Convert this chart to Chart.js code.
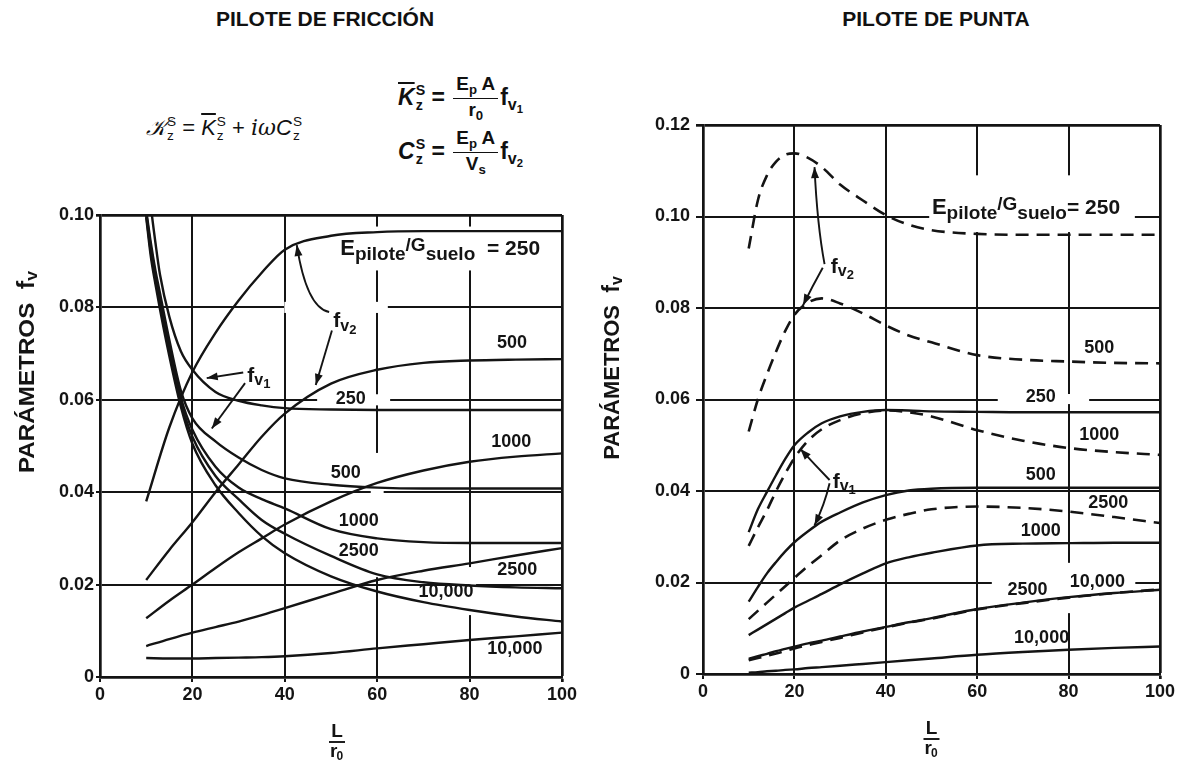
<!DOCTYPE html>
<html><head><meta charset="utf-8">
<script src="https://cdn.jsdelivr.net/npm/chart.js@4.4.1/dist/chart.umd.min.js"></script>
<style>
html,body{margin:0;padding:0;background:#fff;}
body{width:1177px;height:761px;position:relative;overflow:hidden;font-family:"Liberation Sans",Arial,sans-serif;color:#111;}
canvas{position:absolute;top:0;}
.ttl{position:absolute;font-weight:bold;font-size:21px;line-height:21px;white-space:nowrap;transform:translateX(-50%);}
.fm{position:absolute;white-space:nowrap;line-height:1;}
.ss{display:inline-block;font-size:0.62em;line-height:1.0;vertical-align:-0.35em;margin-left:1px;text-align:left;}
.frac{display:inline-block;vertical-align:middle;text-align:center;margin:0 2px;font-size:0.82em;}
.frac .num{display:block;border-bottom:1.8px solid #111;padding:0 3px 2px;}
.frac .den{display:block;padding-top:2px;}
.lo{font-size:0.7em;vertical-align:-0.3em;}
.ov{text-decoration:overline;text-decoration-thickness:1.6px;}
.it{font-style:italic;}
.sr{font-family:"DejaVu Serif",serif;font-style:italic;}
</style></head><body>
<div class="ttl" style="left:325px;top:8px">PILOTE DE FRICCIÓN</div>
<div class="ttl" style="left:936px;top:8px">PILOTE DE PUNTA</div>

<div class="fm" style="left:146px;top:115px;font-size:22px;">
<span class="sr">𝒦</span><span class="ss">S<br>z</span> = <span class="ov it">K</span><span class="ss">S<br>z</span> + <span class="sr">iω</span><span class="it">C</span><span class="ss">S<br>z</span>
</div>
<div class="fm" style="left:398px;top:75px;font-size:23px;font-weight:bold;">
<span class="ov it">K</span><span class="ss">S<br>z</span> = <span class="frac"><span class="num">E<span class="lo">p</span> A</span><span class="den">r<span class="lo">0</span></span></span>f<span class="lo">v<span class="lo">1</span></span>
</div>
<div class="fm" style="left:398px;top:129px;font-size:23px;font-weight:bold;">
<span class="it">C</span><span class="ss">S<br>z</span> = <span class="frac"><span class="num">E<span class="lo">p</span> A</span><span class="den">V<span class="lo">s</span></span></span>f<span class="lo">v<span class="lo">2</span></span>
</div>

<canvas id="c1" width="588" height="761" style="left:0"></canvas>
<canvas id="c2" width="589" height="761" style="left:588px"></canvas>

<script>
// ===================== DATA =====================
const xTicks = [0, 20, 40, 60, 80, 100];
const xTickLabels = ['0', '20', '40', '60', '80', '100'];
const yTicksFric = [0, 0.02, 0.04, 0.06, 0.08, 0.10];
const yTickLabelsFric = ['0', '0.02', '0.04', '0.06', '0.08', '0.10'];
const yTicksPunta = [0, 0.02, 0.04, 0.06, 0.08, 0.10, 0.12];
const yTickLabelsPunta = ['0', '0.02', '0.04', '0.06', '0.08', '0.10', '0.12'];

// ---- Pilote de fricción: f_v1 (decreasing curves) ----
const xFricFv1 = [10, 11, 12, 13, 15, 17.5, 20, 25, 30, 35, 40, 50, 60, 70, 80, 90, 100];
const fricFv1_250   = [0.112, 0.102, 0.094, 0.087, 0.078, 0.0705, 0.0665, 0.0617, 0.0598, 0.0588, 0.0582, 0.0579, 0.0578, 0.0578, 0.0578, 0.0578, 0.0578];
const fricFv1_500   = [0.101, 0.094, 0.088, 0.083, 0.073, 0.062, 0.0560, 0.0510, 0.0475, 0.0448, 0.0430, 0.0416, 0.0410, 0.0408, 0.0408, 0.0408, 0.0408];
const fricFv1_1000  = [0.1005, 0.093, 0.087, 0.0815, 0.0715, 0.0605, 0.0535, 0.0455, 0.0410, 0.0385, 0.0365, 0.0320, 0.0300, 0.0292, 0.0290, 0.0290, 0.0290];
const fricFv1_2500  = [0.100, 0.092, 0.086, 0.0805, 0.0705, 0.0595, 0.0520, 0.0435, 0.0385, 0.0340, 0.0310, 0.0262, 0.0222, 0.0205, 0.0198, 0.0194, 0.0192];
const fricFv1_10000 = [0.0995, 0.091, 0.085, 0.0795, 0.0695, 0.0585, 0.0505, 0.0415, 0.0355, 0.0305, 0.0268, 0.0218, 0.0185, 0.0162, 0.0145, 0.0131, 0.0120];

// ---- Pilote de fricción: f_v2 (increasing curves) ----
const xFricFv2 = [10, 15, 20, 25, 30, 35, 40, 50, 60, 70, 80, 90, 100];
const fricFv2_250   = [0.038, 0.054, 0.066, 0.0745, 0.0815, 0.0875, 0.0925, 0.0955, 0.0963, 0.0965, 0.0965, 0.0965, 0.0965];
const fricFv2_500   = [0.021, 0.0275, 0.0335, 0.040, 0.046, 0.052, 0.057, 0.0635, 0.0665, 0.068, 0.0685, 0.0687, 0.0688];
const fricFv2_1000  = [0.0127, 0.0165, 0.0200, 0.0236, 0.027, 0.030, 0.033, 0.038, 0.042, 0.0447, 0.0466, 0.0477, 0.0484];
const fricFv2_2500  = [0.0067, 0.0082, 0.0096, 0.0108, 0.012, 0.0134, 0.0149, 0.018, 0.021, 0.023, 0.0246, 0.0263, 0.0279];
const fricFv2_10000 = [0.0041, 0.0040, 0.0040, 0.0041, 0.0042, 0.0043, 0.0045, 0.0052, 0.0062, 0.0071, 0.0080, 0.0088, 0.0096];

// ---- Pilote de punta ----
const xPunta = [10, 12, 14, 16, 18, 20, 23, 26, 30, 35, 40, 45, 50, 60, 70, 80, 90, 100];
const puntaFv2_250   = [0.093, 0.1035, 0.109, 0.112, 0.1135, 0.1138, 0.1128, 0.1108, 0.107, 0.1035, 0.1003, 0.0982, 0.097, 0.0962, 0.096, 0.096, 0.096, 0.096];
const puntaFv2_500   = [0.053, 0.060, 0.0655, 0.0705, 0.075, 0.0785, 0.0812, 0.0821, 0.081, 0.0788, 0.0762, 0.074, 0.0725, 0.0697, 0.0687, 0.0683, 0.068, 0.0679];
const puntaFv2_1000  = [0.028, 0.032, 0.0358, 0.040, 0.0438, 0.0472, 0.051, 0.0535, 0.0555, 0.0570, 0.0576, 0.0572, 0.0563, 0.0533, 0.051, 0.0494, 0.0485, 0.0479];
const puntaFv2_2500  = [0.012, 0.0138, 0.0156, 0.0174, 0.0192, 0.021, 0.0236, 0.026, 0.0292, 0.0318, 0.0337, 0.035, 0.036, 0.0366, 0.0363, 0.0355, 0.0343, 0.033];
const puntaFv2_10000 = [0.0030, 0.0035, 0.0040, 0.0045, 0.0050, 0.0056, 0.0063, 0.0070, 0.0079, 0.0091, 0.0102, 0.0112, 0.0121, 0.0141, 0.0155, 0.0167, 0.0177, 0.0185];
const puntaFv1_250   = [0.031, 0.036, 0.0398, 0.0435, 0.047, 0.0500, 0.0528, 0.0548, 0.0563, 0.0573, 0.0577, 0.0576, 0.0574, 0.0573, 0.0572, 0.0572, 0.0572, 0.0572];
const puntaFv1_500   = [0.0158, 0.019, 0.022, 0.0245, 0.0268, 0.0288, 0.0312, 0.0333, 0.0353, 0.0375, 0.0391, 0.0401, 0.0405, 0.0407, 0.0407, 0.0407, 0.0407, 0.0407];
const puntaFv1_1000  = [0.0085, 0.0097, 0.0109, 0.0121, 0.0133, 0.0145, 0.016, 0.0175, 0.0196, 0.022, 0.0242, 0.0255, 0.0265, 0.0281, 0.0285, 0.0286, 0.0287, 0.0287];
const puntaFv1_2500  = [0.0033, 0.0039, 0.0044, 0.0050, 0.0055, 0.0060, 0.0067, 0.0073, 0.0082, 0.0093, 0.0103, 0.0113, 0.0122, 0.0142, 0.0156, 0.0168, 0.0177, 0.0184];
const puntaFv1_10000 = [0.0003, 0.0004, 0.0006, 0.0007, 0.0009, 0.0010, 0.0013, 0.0015, 0.0018, 0.0022, 0.0026, 0.0030, 0.0034, 0.0042, 0.0048, 0.0053, 0.0057, 0.0060];

// ===================== ANNOTATIONS (data units) =====================
const labelsFric = [
  {t:'eg', sep:'  = 250', x:52, y:0.0926, align:'left'},
  {t:'500', x:89.2, y:0.0723},
  {t:'250', x:54.3, y:0.0602},
  {t:'fv', sub:'2', x:53, y:0.0770},
  {t:'fv', sub:'1', x:34.4, y:0.0652},
  {t:'1000', x:89, y:0.0509},
  {t:'500', x:53.2, y:0.0442},
  {t:'1000', x:56, y:0.0338},
  {t:'2500', x:56, y:0.0273},
  {t:'2500', x:90.3, y:0.0232},
  {t:'10,000', x:74.9, y:0.0184},
  {t:'10,000', x:89.8, y:0.0061}
];
const arrowsFric = [
  {from:[49.6,0.0790], ctrl:[44.7,0.0800], to:[42.6,0.0935]},
  {from:[50.2,0.0750], ctrl:[48.3,0.0686], to:[46.7,0.0632]},
  {from:[31.0,0.0659], ctrl:[27.0,0.0653], to:[23.1,0.0647]},
  {from:[31.4,0.0636], ctrl:[27.8,0.0587], to:[24.2,0.0538]}
];
const gapsFric = [
  [50.5, 97.5, 0.0880, 0.0975],
  [39.9, 62.3, 0.0788, 0.0812],
  [47.0, 62.8, 0.0588, 0.0612],
  [58.6, 61.4, 0.0216, 0.0485],
  [78.6, 81.4, 0.0134, 0.0238]
];
const labelsPunta = [
  {t:'eg', sep:'= 250', x:50.1, y:0.1019, align:'left'},
  {t:'500', x:86.7, y:0.0713},
  {t:'250', x:73.9, y:0.0605},
  {t:'1000', x:86.7, y:0.0522},
  {t:'500', x:73.9, y:0.0435},
  {t:'2500', x:88.7, y:0.0374},
  {t:'1000', x:73.9, y:0.0313},
  {t:'10,000', x:86.3, y:0.0201},
  {t:'2500', x:71, y:0.0184},
  {t:'10,000', x:74.1, y:0.0079},
  {t:'fv', sub:'2', x:30.5, y:0.0890},
  {t:'fv', sub:'1', x:30.9, y:0.0420}
];
const arrowsPunta = [
  {from:[26.6,0.0896], ctrl:[25.0,0.0981], to:[24.4,0.1108]},
  {from:[26.2,0.0888], ctrl:[23.8,0.0845], to:[21.9,0.0806]},
  {from:[27.7,0.0424], ctrl:[24.4,0.0458], to:[21.3,0.0492]},
  {from:[27.7,0.0417], ctrl:[26.6,0.0370], to:[24.4,0.0325]}
];
const gapsPunta = [
  [49.5, 94.5, 0.0966, 0.1090],
  [64.5, 84.5, 0.0590, 0.0612],
  [78.6, 81.4, 0.0133, 0.0243],
  [63.2, 94.6, 0.0190, 0.0210]
];

// ===================== RENDER =====================
const FONT = '"Liberation Sans", Arial, sans-serif';
const INK = '#141414';
const pts = (xs, ys) => xs.map((x, i) => ({x, y: ys[i]}));

function partsFor(l) {
  if (l.t === 'fv') return [['f', 21, 0], ['v', 16, 5], [l.sub, 13, 9]];
  if (l.t === 'eg') return [['E', 22, 0], ['pilote', 19, 6], ['/G', 19, -3], ['suelo', 19, 6], [l.sep, 21, 0]];
  return [[l.t, 18, 0]];
}
function measure(ctx, parts) {
  let w = 0;
  for (const [t, s] of parts) { ctx.font = `bold ${s}px ${FONT}`; w += ctx.measureText(t).width; }
  return w;
}
function drawParts(ctx, parts, x, y) {
  let cx = x;
  for (const [t, s, dy] of parts) { ctx.font = `bold ${s}px ${FONT}`; ctx.fillText(t, cx, y + dy); cx += ctx.measureText(t).width; }
}

const annotPlugin = {
  id: 'annot',
  beforeDatasetsDraw(chart, args, o) {
    const {ctx, scales: {x, y}} = chart;
    ctx.save(); ctx.fillStyle = '#fff';
    for (const g of o.gaps) {
      const x0 = x.getPixelForValue(g[0]), x1 = x.getPixelForValue(g[1]);
      const y0 = y.getPixelForValue(g[2]), y1 = y.getPixelForValue(g[3]);
      ctx.fillRect(Math.min(x0, x1), Math.min(y0, y1), Math.abs(x1 - x0), Math.abs(y1 - y0));
    }
    ctx.restore();
  },
  afterDatasetsDraw(chart, args, o) {
    const {ctx, scales: {x, y}} = chart;
    ctx.save();
    ctx.strokeStyle = INK; ctx.fillStyle = INK; ctx.lineWidth = 1.9; ctx.setLineDash([]);
    for (const a of o.arrows) {
      const fx = x.getPixelForValue(a.from[0]), fy = y.getPixelForValue(a.from[1]);
      const cx = x.getPixelForValue(a.ctrl[0]), cy = y.getPixelForValue(a.ctrl[1]);
      const tx = x.getPixelForValue(a.to[0]), ty = y.getPixelForValue(a.to[1]);
      ctx.beginPath(); ctx.moveTo(fx, fy); ctx.quadraticCurveTo(cx, cy, tx, ty); ctx.stroke();
      const ang = Math.atan2(ty - cy, tx - cx), L = 11, W = 4;
      ctx.beginPath();
      ctx.moveTo(tx, ty);
      ctx.lineTo(tx - L * Math.cos(ang) + W * Math.sin(ang), ty - L * Math.sin(ang) - W * Math.cos(ang));
      ctx.lineTo(tx - L * Math.cos(ang) - W * Math.sin(ang), ty - L * Math.sin(ang) + W * Math.cos(ang));
      ctx.closePath(); ctx.fill();
    }
    ctx.textBaseline = 'middle';
    for (const l of o.labels) {
      const parts = partsFor(l);
      const w = measure(ctx, parts);
      let px = x.getPixelForValue(l.x), py = y.getPixelForValue(l.y);
      if (l.align !== 'left') px -= w / 2;
      drawParts(ctx, parts, px, py);
    }
    ctx.restore();
  },
  afterDraw(chart, args, o) {
    const {ctx, chartArea: ca} = chart;
    ctx.save(); ctx.fillStyle = INK; ctx.strokeStyle = INK; ctx.textBaseline = 'middle';
    // y title (rotated, optional stretch along the text direction)
    ctx.translate(ca.left - o.yTitleDx, o.yTitleY);
    ctx.rotate(-Math.PI / 2);
    ctx.scale(o.yTitleStretch, 1);
    const parts = [['PARÁMETROS  ', 22, 0], ['f', 23, 0], ['v', 16, 5]];
    drawParts(ctx, parts, -measure(ctx, parts) / 2, 0);
    ctx.setTransform(1, 0, 0, 1, 0, 0);
    // x title  L / r0
    const cx = (ca.left + ca.right) / 2 + o.xTitleDx;
    ctx.font = `bold 19px ${FONT}`; ctx.textAlign = 'center';
    ctx.fillText('L', cx, o.xTitleY);
    ctx.lineWidth = 1.9;
    ctx.beginPath(); ctx.moveTo(cx - 8, o.xTitleY + 10); ctx.lineTo(cx + 8, o.xTitleY + 10); ctx.stroke();
    ctx.textAlign = 'left';
    ctx.fillText('r', cx - 7, o.xTitleY + 20);
    ctx.font = `bold 12px ${FONT}`;
    ctx.fillText('0', cx - 0.5, o.xTitleY + 25);
    ctx.restore();
  }
};

function makeChart(id, cfg) {
  const solid = (xs, ys) => ({data: pts(xs, ys), borderColor: INK, borderWidth: 2.4, showLine: true, pointRadius: 0, fill: false, cubicInterpolationMode: 'monotone'});
  const dashed = (xs, ys) => Object.assign(solid(xs, ys), {borderDash: [13, 8], borderWidth: 2.6});
  const datasets = cfg.series.map(s => s.dash ? dashed(s.x, s.y) : solid(s.x, s.y));
  const gridW = (ctx, maxV) => (ctx.tick && Math.abs(ctx.tick.value - maxV) < 1e-9) ? 2.7 : 2.0;
  return new Chart(document.getElementById(id), {
    type: 'scatter',
    data: {datasets},
    plugins: [annotPlugin],
    options: {
      responsive: false, animation: false, events: [],
      layout: {padding: cfg.padding},
      plugins: {legend: {display: false}, tooltip: {enabled: false},
        annot: {labels: cfg.labels, arrows: cfg.arrows, gaps: cfg.gaps, yTitleDx: cfg.yTitleDx, yTitleY: cfg.yTitleY, yTitleStretch: cfg.yTitleStretch, xTitleDx: cfg.xTitleDx, xTitleY: cfg.xTitleY}},
      scales: {
        x: {type: 'linear', min: 0, max: 100,
          afterFit: s => { s.height = cfg.xAxisH; },
          afterBuildTicks: s => { s.ticks = xTicks.map(v => ({value: v})); },
          ticks: {callback: (v) => xTickLabels[xTicks.indexOf(v)], color: INK, font: {family: FONT, size: 18, weight: 'bold'}, padding: 2, maxRotation: 0, autoSkip: false},
          grid: {color: INK, lineWidth: c => gridW(c, 100), tickLength: 5, drawTicks: true},
          border: {display: true, color: INK, width: 2.7}},
        y: {type: 'linear', min: 0, max: cfg.yMax,
          afterFit: s => { s.width = cfg.yAxisW; },
          afterBuildTicks: s => { s.ticks = cfg.yTicks.map(v => ({value: v})); },
          ticks: {callback: (v) => cfg.yTickLabels[cfg.yTicks.findIndex(t => Math.abs(t - v) < 1e-9)], color: INK, font: {family: FONT, size: 18, weight: 'bold'}, padding: cfg.yTickPad, autoSkip: false},
          grid: {color: INK, lineWidth: c => gridW(c, cfg.yMax), tickLength: cfg.yTickLen, drawTicks: true},
          border: {display: true, color: INK, width: 2.7}}
      }
    }
  });
}

makeChart('c1', {
  padding: {left: 0, right: 26, top: 215, bottom: 0}, xAxisH: 84, yAxisW: 100, yMax: 0.10,
  yTicks: yTicksFric, yTickLabels: yTickLabelsFric, yTickLen: 4, yTickPad: 2,
  labels: labelsFric, arrows: arrowsFric, gaps: gapsFric,
  yTitleDx: 72, yTitleY: 372, yTitleStretch: 1.1, xTitleDx: 6, xTitleY: 732,
  series: [
    {x: xFricFv1, y: fricFv1_250}, {x: xFricFv1, y: fricFv1_500}, {x: xFricFv1, y: fricFv1_1000},
    {x: xFricFv1, y: fricFv1_2500}, {x: xFricFv1, y: fricFv1_10000},
    {x: xFricFv2, y: fricFv2_250}, {x: xFricFv2, y: fricFv2_500}, {x: xFricFv2, y: fricFv2_1000},
    {x: xFricFv2, y: fricFv2_2500}, {x: xFricFv2, y: fricFv2_10000}
  ]
});

makeChart('c2', {
  padding: {left: 0, right: 15, top: 125, bottom: 0}, xAxisH: 87, yAxisW: 115, yMax: 0.12,
  yTicks: yTicksPunta, yTickLabels: yTickLabelsPunta, yTickLen: 7, yTickPad: 6,
  labels: labelsPunta, arrows: arrowsPunta, gaps: gapsPunta,
  yTitleDx: 90, yTitleY: 368, yTitleStretch: 1.0, xTitleDx: 0, xTitleY: 729,
  series: [
    {x: xPunta, y: puntaFv2_250, dash: true}, {x: xPunta, y: puntaFv2_500, dash: true},
    {x: xPunta, y: puntaFv2_1000, dash: true}, {x: xPunta, y: puntaFv2_2500, dash: true},
    {x: xPunta, y: puntaFv2_10000, dash: true},
    {x: xPunta, y: puntaFv1_250}, {x: xPunta, y: puntaFv1_500}, {x: xPunta, y: puntaFv1_1000},
    {x: xPunta, y: puntaFv1_2500}, {x: xPunta, y: puntaFv1_10000}
  ]
});
</script>
</body></html>
